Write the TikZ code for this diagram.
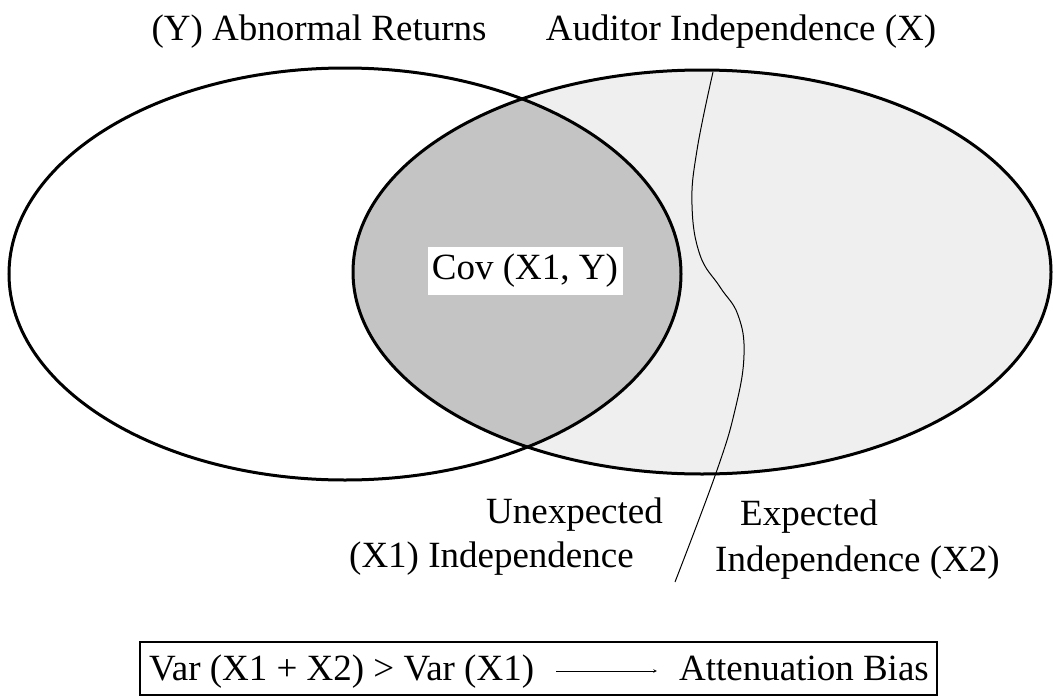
\documentclass[tikz,border=0pt]{standalone}
\usepackage{fontspec}
\setmainfont{Liberation Serif}
\usetikzlibrary{arrows,positioning}
\definecolor{lightfill}{HTML}{EFEFEF}
\definecolor{overlap}{HTML}{C4C4C4}
\tikzstyle{txt} = [inner sep=0pt, font=\fontsize{37}{44}\selectfont]
\tikzstyle{setline} = [line width=3pt]
\tikzstyle{arrow} = [semithick,->,>=stealth]
\begin{document}
\begin{tikzpicture}[x=1pt,y=-1pt]
	\useasboundingbox (0,0) rectangle (1055,696);
	\coordinate (cy) at (345,274);
	\coordinate (cx) at (702,272);
	\fill [lightfill] (cx) ellipse [x radius=349, y radius=202];
	\begin{scope}
		\clip (cy) ellipse [x radius=336, y radius=206];
		\fill [overlap] (cx) ellipse [x radius=349, y radius=202];
	\end{scope}
	\draw [line width=1pt] plot [smooth, tension=0.7] coordinates {(713,72) (697,150) (692,205) (700,255) (720,287) (738,315) (744,355) (735,410) (716,473) (675,582)};
	\draw [setline] (cy) ellipse [x radius=336, y radius=206];
	\draw [setline] (cx) ellipse [x radius=349, y radius=202];
	\node (cov) [txt, fill=white, minimum width=195, minimum height=48] at (525,271) {Cov (X1, Y)};
	\node (ytitle) [txt, anchor=base] at (319,40) {(Y) Abnormal Returns};
	\node (xtitle) [txt, anchor=base] at (741,40) {Auditor Independence (X)};
	\node (unexp) [txt, anchor=base east] at (663,523) {Unexpected};
	\node (x1) [txt, anchor=base west] at (349,567) {(X1) Independence};
	\node (exp) [txt, anchor=base west] at (740,525) {Expected};
	\node (x2) [txt, anchor=base west] at (715,571) {Independence (X2)};
	\node (var) [txt, anchor=base west] at (149,680) {Var (X1 + X2) > Var (X1)};
	\node (bias) [txt, anchor=base east] at (929,680) {Attenuation Bias};
	\draw [line width=1.2pt] (140,642) rectangle (937,695);
	\draw [arrow, shorten <=22pt, shorten >=22pt] ([yshift=9pt]var.base east) -- ([yshift=9pt]bias.base west);
\end{tikzpicture}
\end{document}
